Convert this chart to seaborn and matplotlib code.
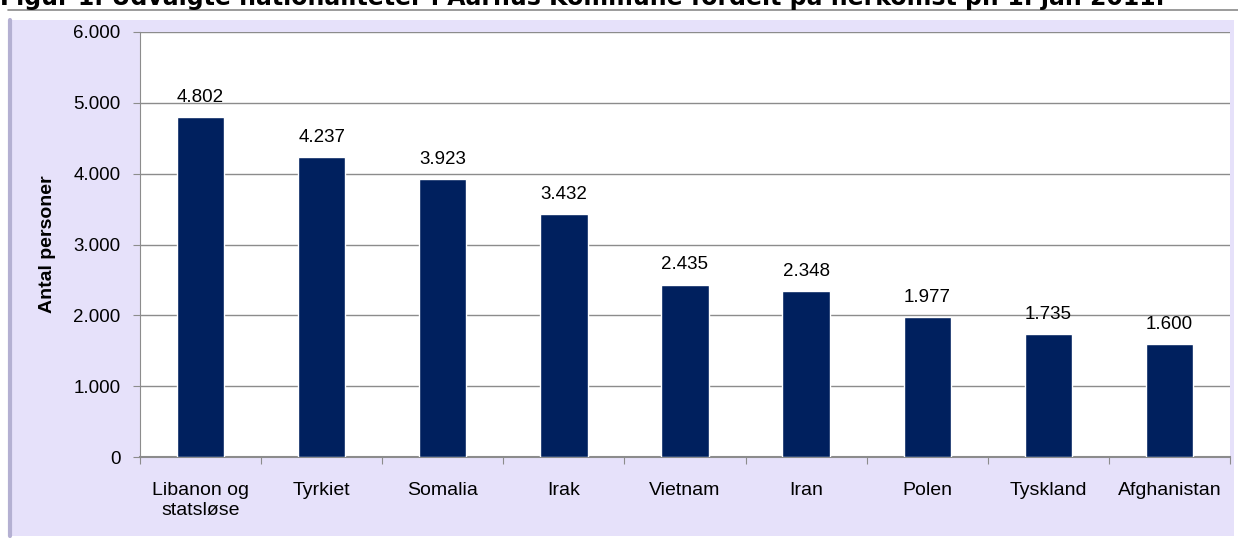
import matplotlib
matplotlib.use("Agg")
import matplotlib.pyplot as plt
import seaborn as sns
import pandas as pd
from matplotlib.patches import Rectangle
from matplotlib.lines import Line2D

# Data
lande = ["Libanon og\nstatsløse", "Tyrkiet", "Somalia", "Irak", "Vietnam",
         "Iran", "Polen", "Tyskland", "Afghanistan"]
antal = [4802, 4237, 3923, 3432, 2435, 2348, 1977, 1735, 1600]
y_ticks = [0, 1000, 2000, 3000, 4000, 5000, 6000]

titel = "Figur 1. Udvalgte nationaliteter i Aarhus Kommune fordelt på herkomst pr. 1. jan 2011."

sns.set_style("white")
plt.rcParams["font.family"] = ["Liberation Sans", "DejaVu Sans"]
plt.rcParams["text.color"] = "black"
plt.rcParams["axes.labelcolor"] = "black"
plt.rcParams["xtick.labelcolor"] = "black"
plt.rcParams["ytick.labelcolor"] = "black"

W, H = 1238, 538
fig = plt.figure(figsize=(W / 100, H / 100), dpi=100)
fig.patch.set_facecolor("white")

# chart frame (lavender area with a white strip on top)
fig.patches.append(Rectangle((8 / W, 1 - 536 / H), (1234 - 8) / W, (536 - 20) / H,
                             transform=fig.transFigure, facecolor="#E6E1FA",
                             edgecolor="none", zorder=-2))
fig.lines.append(Line2D([8 / W, 1], [1 - 10 / H, 1 - 10 / H], transform=fig.transFigure,
                        color="#8A8A8A", lw=1.2))
fig.lines.append(Line2D([10 / W, 10 / W], [1 - 536 / H, 1 - 20 / H], transform=fig.transFigure,
                        color="#B4B0D2", lw=3))

ax = fig.add_axes([140 / W, 1 - 457 / H, (1230 - 140) / W, (457 - 32) / H])
ax.set_facecolor("white")

df = pd.DataFrame({"land": lande, "antal": antal})
sns.barplot(data=df, x="land", y="antal", color="#00205E", saturation=1,
            width=0.39, ax=ax, zorder=3)

ax.set_ylim(0, 6000)
ax.set_xlim(-0.5, len(lande) - 0.5)
ax.set_yticks(y_ticks)
ax.set_yticklabels([f"{v:,}".replace(",", ".") for v in y_ticks], fontsize=13.5)
for v in y_ticks[1:]:
    ax.axhline(v, color="#8C8C8C", lw=1, zorder=1)

# x ticks at category boundaries, labels centred on bars
ax.set_xticks([i - 0.5 for i in range(len(lande) + 1)])
ax.set_xticklabels([])
ax.set_xticks(range(len(lande)), minor=True)
ax.set_xticklabels(lande, minor=True, fontsize=14, linespacing=1.2)
ax.tick_params(axis="x", which="major", length=5, color="#8C8C8C", bottom=True)
ax.tick_params(axis="x", which="minor", length=0, pad=18)
ax.tick_params(axis="y", length=5, color="#8C8C8C", left=True, pad=9)

for s in ["top", "right"]:
    ax.spines[s].set_visible(False)
ax.spines["left"].set_color("#8C8C8C")
ax.spines["bottom"].set_color("#8C8C8C")
ax.spines["bottom"].set_linewidth(1.5)

ax.set_xlabel("")
ax.set_ylabel("Antal personer", fontsize=14, fontweight="bold")
ax.yaxis.set_label_coords(-(140 - 56) / (1230 - 140), 0.5)

for i, v in enumerate(antal):
    ax.annotate(f"{v:,}".replace(",", "."), (i, v), xytext=(0, 8),
                textcoords="offset points", ha="center", va="bottom", fontsize=13.5)

# title is clipped at the top edge in the reference
fig.text(0.0, 1 - 5 / H, titel, fontsize=17, fontweight="bold",
         family=["DejaVu Sans"], ha="left", va="baseline")

fig.savefig("out.png", dpi=100)
